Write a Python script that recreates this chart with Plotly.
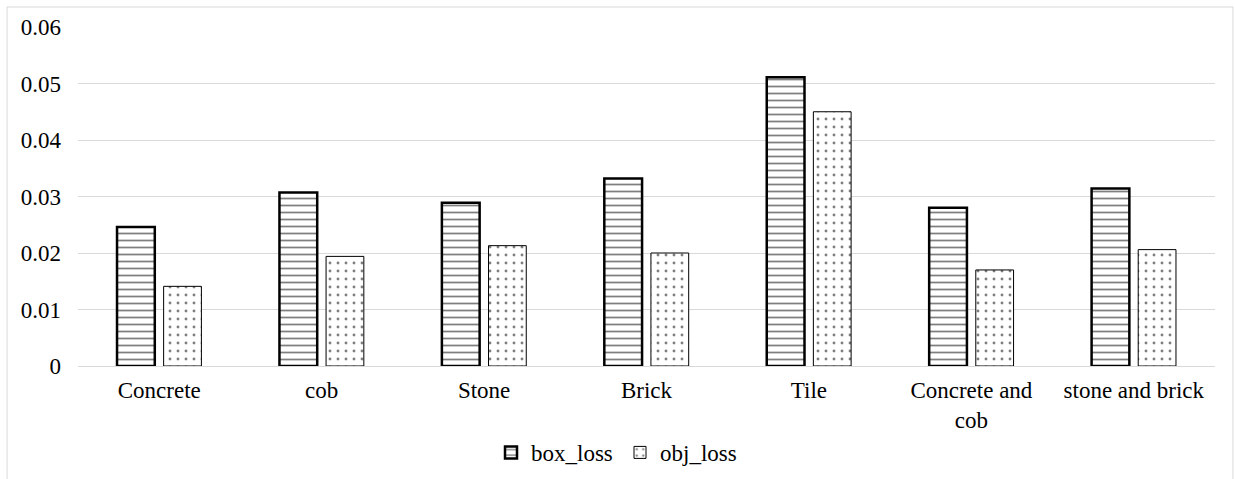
import plotly.graph_objects as go

categories = ["Concrete", "cob", "Stone", "Brick", "Tile", "Concrete and<br>cob", "stone and brick"]
box_loss = [0.0246, 0.0307, 0.0289, 0.0332, 0.0511, 0.0280, 0.0314]
obj_loss = [0.0141, 0.0194, 0.0213, 0.0200, 0.0450, 0.0170, 0.0206]
y_ticks = [0, 0.01, 0.02, 0.03, 0.04, 0.05, 0.06]
y_tick_text = ["0", "0.01", "0.02", "0.03", "0.04", "0.05", "0.06"]

FONT = "Liberation Serif"
FS = 23

fig = go.Figure()
fig.add_trace(go.Bar(
    name="box_loss", x=categories, y=box_loss,
    marker=dict(
        color="white",
        line=dict(color="black", width=2.5),
        pattern=dict(shape="-", fgcolor="black", bgcolor="white", size=7, solidity=0.25),
    ),
))
fig.add_trace(go.Bar(
    name="obj_loss", x=categories, y=obj_loss,
    marker=dict(
        color="white",
        line=dict(color="black", width=1),
        pattern=dict(shape=".", fgcolor="black", bgcolor="white", size=8, solidity=0.1),
    ),
))

# light frame around the whole chart area
fig.add_shape(type="rect", xref="paper", yref="paper",
              x0=-0.0624, x1=1.0158, y0=-0.6, y1=1.059,
              line=dict(color="#d9d9d9", width=1), layer="below")

fig.update_layout(
    width=1235, height=479,
    margin=dict(l=78, r=20, t=27, b=113, autoexpand=False),
    paper_bgcolor="white", plot_bgcolor="white",
    font=dict(family=FONT, size=FS, color="black"),
    barmode="group", bargap=0.426, bargroupgap=0.19,
    showlegend=True,
    legend=dict(orientation="h", x=0.4767, xanchor="center", y=-0.255, yanchor="middle",
                font=dict(family=FONT, size=FS), itemwidth=30, traceorder="normal",
                entrywidth=84, tracegroupgap=0),
    xaxis=dict(showgrid=False, showline=False, ticks="", tickangle=0, automargin=False,
               ticklabelstandoff=8, tickfont=dict(family=FONT, size=FS)),
    yaxis=dict(range=[0, 0.06], tickvals=y_ticks, ticktext=y_tick_text, automargin=False,
               showgrid=True, gridcolor="#d9d9d9", gridwidth=1,
               zeroline=True, zerolinecolor="#d9d9d9", zerolinewidth=1,
               showline=False, ticks="", ticklabelstandoff=16,
               tickfont=dict(family=FONT, size=FS)),
)

fig.write_html("out.html")
